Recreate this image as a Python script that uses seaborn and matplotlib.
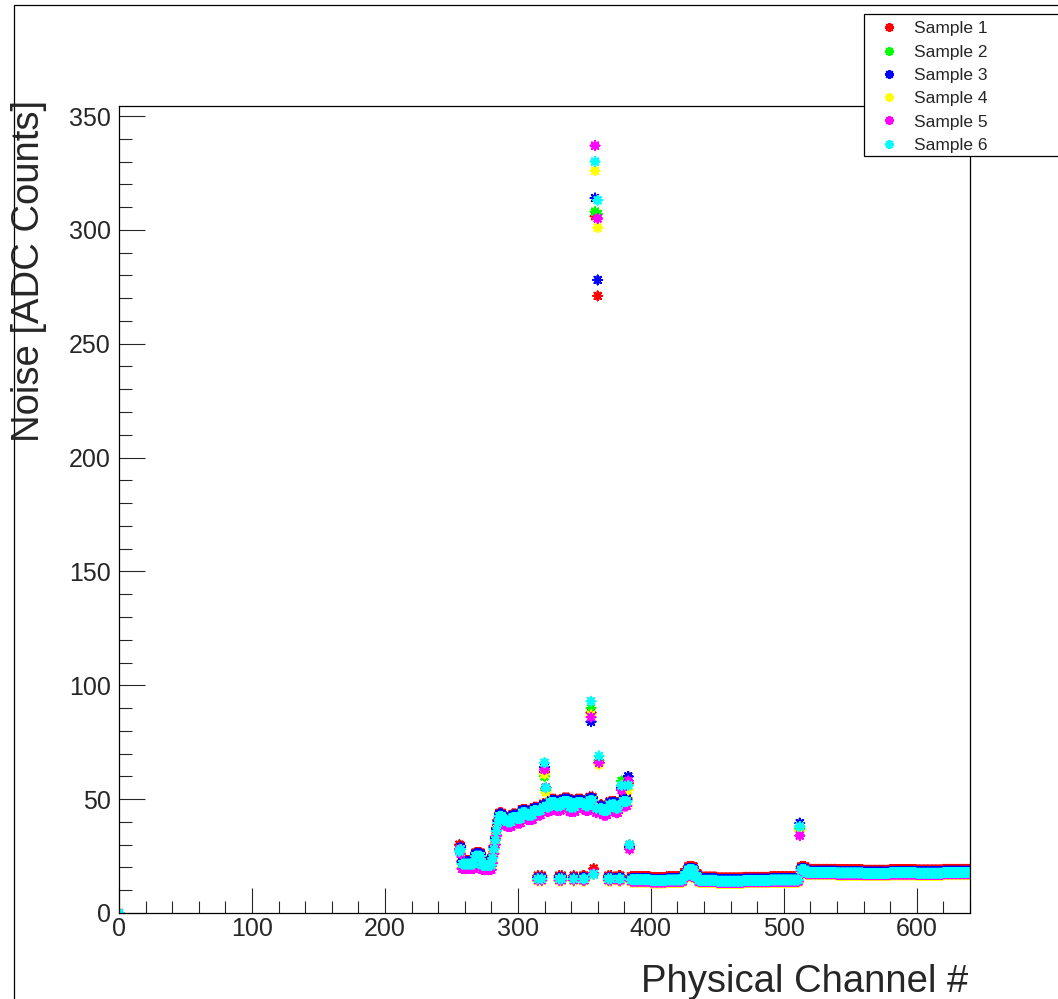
import numpy as np
import pandas as pd
import matplotlib
matplotlib.use("Agg")
import matplotlib.pyplot as plt
from matplotlib.patches import Rectangle
from matplotlib.lines import Line2D
from matplotlib.ticker import MultipleLocator
import seaborn as sns

# ---- data -------------------------------------------------------------
sample_names = ["Sample 1", "Sample 2", "Sample 3", "Sample 4", "Sample 5", "Sample 6"]
sample_colors = ["#ff0000", "#00ff00", "#0000ff", "#ffff00", "#ff00ff", "#00ffff"]

# baseline noise level per run of channels (run starts; each run ends where the next begins)
run_start = [256, 258, 268, 273, 281, 282, 283, 284, 285, 286, 289, 292, 296, 299, 303,
             307, 312, 318, 324, 329, 334, 339, 344, 349, 354, 359, 364, 369, 374, 379,
             384, 385, 400, 412, 425, 428, 433, 436, 450, 470, 490, 512, 513, 517,
             540, 560, 580, 600, 620]
run_level = [28.0, 21.5, 25.0, 21.0, 24.0, 28.0, 32.0, 36.0, 39.5, 42.5, 41.0, 40.0, 42.0, 41.5, 44.0,
             43.0, 45.0, 46.5, 48.5, 47.0, 49.0, 46.5, 48.5, 47.0, 49.5, 46.0, 45.0, 47.5, 46.0, 49.0,
             29.0, 14.6, 14.2, 14.5, 16.5, 19.0, 16.0, 14.4, 14.0, 14.3, 14.5, 37.0, 19.0, 17.8,
             17.6, 17.4, 17.7, 17.5, 17.8]
last_channel = 639

# channels of the 313-384 block that sit on the low-noise level
low_channels = [315, 318, 331, 333, 342, 349, 350, 368, 370, 376, 377]
low_level = 15.0

# per-sample shift of the band, upper block (< 385) and the rest
offset_upper = [1.5, 0.5, 1.0, -1.5, -2.0, 0.0]
offset_lower = [1.4, -0.8, 0.6, -1.0, -0.6, 0.0]

# noisy channels, one value per sample
spike_channels = [0, 256, 320, 321, 355, 357, 358, 360, 361, 378, 383, 384, 512]
spike_values = [
    [0, 0, 0, 0, 0, 0],
    [30, 28, 28, 27, 28, 27],
    [62, 60, 64, 61, 63, 66],
    [55, 54, 55, 53, 55, 55],
    [88, 90, 84, 87, 86, 93],
    [19.5, 17, 17, 17, 17.5, 17],
    [306, 308, 314, 326, 337, 330],
    [271, 307, 278, 301, 305, 313],
    [66, 67, 66, 65, 66, 69],
    [56, 58, 55, 56, 54, 56],
    [57, 56, 60, 54, 58, 56],
    [30, 29, 29, 28, 28, 30],
    [38, 37, 39.5, 36, 34, 38],
]

# ---- assemble long table ------------------------------------------------
rows = []
bounds = run_start + [last_channel + 1]
base = {}
for i, lvl in enumerate(run_level):
    for ch in range(bounds[i], bounds[i + 1]):
        base[ch] = lvl
for ch in low_channels:
    base[ch] = low_level
spikes = dict(zip(spike_channels, spike_values))

for s, name in enumerate(sample_names):
    for ch in sorted(set(base) | set(spikes)):
        if ch in spikes:
            v = spikes[ch][s]
        else:
            upper = ch < 385 and ch not in low_channels
            v = base[ch] + (offset_upper[s] if upper else offset_lower[s])
        rows.append((ch, v, name))
df = pd.DataFrame(rows, columns=["channel", "noise", "sample"])

# ---- figure -------------------------------------------------------------
W, H = 1058, 999
sns.set_style("white")
plt.rcParams["font.family"] = ["Liberation Sans", "DejaVu Sans"]

fig = plt.figure(figsize=(W / 100, H / 100), dpi=100)
ax = fig.add_axes([119 / W, 1 - 913 / H, (970 - 119) / W, (913 - 106) / H])

star = (8, 2, 0)
sns.scatterplot(data=df, x="channel", y="noise", hue="sample",
                palette=sample_colors, hue_order=sample_names,
                marker=star, s=40, linewidth=1.5, ax=ax, legend=False)

ax.set_xlim(0, 640)
ax.set_ylim(0, 354.4)
ax.xaxis.set_major_locator(MultipleLocator(100))
ax.xaxis.set_minor_locator(MultipleLocator(20))
ax.yaxis.set_major_locator(MultipleLocator(50))
ax.yaxis.set_minor_locator(MultipleLocator(10))
ax.tick_params(axis="x", which="major", direction="in", length=18, width=0.8,
               labelsize=18, pad=3, bottom=True, top=False)
ax.tick_params(axis="x", which="minor", direction="in", length=8.5, width=0.8,
               bottom=True, top=False)
ax.tick_params(axis="y", which="major", direction="in", length=19, width=0.8,
               labelsize=18, pad=6, left=True, right=False)
ax.tick_params(axis="y", which="minor", direction="in", length=9.5, width=0.8,
               left=True, right=False)
for sp in ax.spines.values():
    sp.set_color("black")
    sp.set_linewidth(0.9)

ax.set_xlabel("")
ax.set_ylabel("")
fig.text(968 / W, 1 - 992 / H, "Physical Channel #", ha="right", va="baseline", fontsize=27.5)
fig.text(29 / W, 1 - 100 / H, "Noise [ADC Counts]", ha="center", va="top",
         rotation=90, fontsize=27.5)

# outer pad border
fig.patches.append(Rectangle((14 / W, -0.2), 2.0, 1.2 - 5 / H, transform=fig.transFigure,
                             fill=False, edgecolor="black", linewidth=0.9))

# legend box, drawn over the frame
fig.patches.append(Rectangle((864 / W, 1 - 156 / H), 1.0, 142 / H, transform=fig.transFigure,
                             fill=True, facecolor="white", edgecolor="black", linewidth=0.9,
                             zorder=5))
handles = [Line2D([], [], linestyle="", marker=star, markersize=6.5, markeredgewidth=1.4,
                  color=c) for c in sample_colors]
leg = fig.legend(handles, sample_names, loc="upper left",
                 bbox_to_anchor=(866 / W, 1 - 9 / H), bbox_transform=fig.transFigure,
                 frameon=False, fontsize=12.5, labelspacing=0.47, handletextpad=0.85,
                 handlelength=1.2, borderpad=0.2)
leg.set_zorder(6)

fig.savefig("out.png", dpi=100)
